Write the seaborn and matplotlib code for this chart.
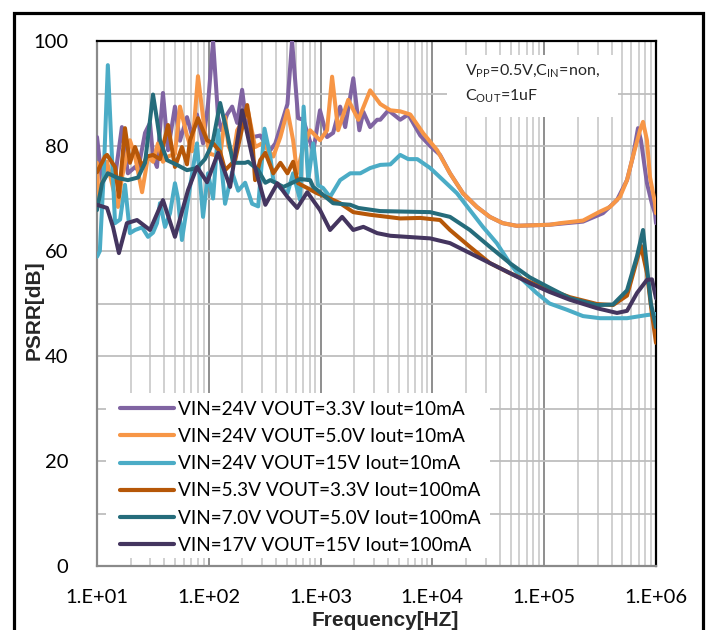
import numpy as np
import pandas as pd
import matplotlib
matplotlib.use("Agg")
import matplotlib.pyplot as plt
from matplotlib.patches import Rectangle
from matplotlib.ticker import FixedLocator, NullFormatter, LogLocator
import seaborn as sns

# ---------------- data ----------------
series_names = [
    "VIN=24V VOUT=3.3V Iout=10mA",
    "VIN=24V VOUT=5.0V Iout=10mA",
    "VIN=24V VOUT=15V Iout=10mA",
    "VIN=5.3V VOUT=3.3V Iout=100mA",
    "VIN=7.0V VOUT=5.0V Iout=100mA",
    "VIN=17V VOUT=15V Iout=100mA",
]
series_colors = ["#8064A2", "#F79646", "#4BACC6", "#B65708", "#256C7B", "#44355F"]

f_purple = [10, 10.6, 11.1, 12.5, 14.5, 16.7, 18.9, 21.9, 23.3, 26.9, 29.8, 31.7, 34.4, 38.9,
            43.2, 49.8, 55.2, 63.8, 70.8, 78.4, 88.8, 98.4, 109.2, 121.1, 130, 145.7, 161.7,
            179.4, 198.6, 220.4, 248.9, 288.4, 320.5, 355, 393.7, 465.3, 505.4, 555.8, 629.5,
            700, 774.7, 858.6, 987.7, 1142, 1294, 1495, 1659, 1961, 2221, 2413, 2774, 3206,
            3417, 4041, 5152, 6083, 7793, 9562, 11710, 14370, 18760, 24970, 32630, 42620,
            56720, 111700, 222400, 335600, 447700, 550400, 622000, 690200, 734500, 830000,
            920000, 980000, 1000000]
v_purple = [81.7, 77, 73, 75, 74.1, 83.6, 74.8, 76, 75.4, 82.5, 84.4, 78, 76, 90.1,
            79.2, 87.5, 81, 85.5, 82, 86, 80.5, 88, 100, 85.5, 83, 86, 87.5,
            84.4, 90.7, 83, 81.7, 82, 80.5, 79.2, 80.5, 85.5, 88, 100, 85.3,
            85, 82, 78.9, 86.8, 81.7, 82.5, 87.5, 83.6, 92.9, 83, 86.5, 83.6, 85,
            85, 86.8, 85, 86, 82, 80, 78.3, 74.8, 71, 68.4, 66.5, 65.3,
            64.8, 65, 65.6, 67.2, 69.7, 73.5, 78, 83.4, 81, 72.9,
            69, 67.2, 65.3]

f_orange = [10, 10.2, 10.6, 11.1, 12.3, 13.9, 15.4, 16.7, 19.7, 21.9, 25.3, 28.6, 31.7, 35.1,
            38.9, 43.2, 49.8, 55.2, 63.8, 70.8, 80.0, 92.4, 102.6, 126.3, 139.8, 150, 165,
            179.4, 225, 259.5, 300, 377.6, 436.8, 505.4, 567.6, 617.3, 698.6, 806, 987.7,
            1142, 1267, 1435, 1767, 2176, 2774, 3417, 4209, 5152, 6345, 8290, 11030, 14370,
            18760, 24970, 32630, 42620, 56720, 111700, 138400, 222400, 315000, 388000,
            476000, 550400, 622000, 719600, 765500, 830000, 883000, 980000, 1000000]
v_orange = [76.8, 72, 70, 73, 77, 72, 68.4, 74, 81.1, 78, 71.2, 78, 77, 80.5,
            77, 78, 78.5, 87.5, 82, 79, 93.3, 82.5, 78.5, 78, 85.5, 80, 78,
            83, 86.5, 79.8, 80.5, 78, 81.7, 86.8, 81.1, 74.8, 79.8, 83, 81.1,
            83, 93.2, 83, 88.8, 85, 90.6, 88, 86.8, 86.6, 86, 82.4, 79.2, 74.8,
            71, 68.4, 66.5, 65.3, 64.8, 65, 65.3, 65.8, 67.5, 68.4,
            70.3, 73.5, 78, 83, 84.6, 81.1, 74.1, 69.1, 67.2]

f_lblue = [10, 10.6, 11.5, 12.5, 13.6, 14.5, 16.1, 17.8, 19.7, 21.9, 25.3, 28.6, 31.7, 34.4,
           36.6, 40.6, 45, 49.8, 53, 57.5, 67.9, 78.4, 88.8, 98.4, 109.2, 121.1, 139.8,
           161.7, 183.2, 211.4, 243.9, 276.6, 315, 355, 377.6, 436.8, 505.4, 567.6, 656,
           705, 774.7, 858.6, 948.8, 1051, 1215, 1495, 1842, 2266, 2774, 3417, 4209, 5152,
           6083, 7328, 9562, 12460, 16580, 21640, 28280, 37650, 49170, 64200, 85440,
           111700, 160000, 222400, 315500, 550400, 830000, 1000000]
v_lblue = [58.9, 60, 75, 95.4, 78, 65.3, 66, 72.6, 63.4, 64, 64.5, 62.7, 63.5, 65.3,
           69.1, 64.6, 67.2, 72.9, 70, 62.1, 72.2, 80.5, 66.5, 74.8, 70, 83, 69,
           75, 71.5, 73, 69, 68.5, 83.3, 78, 73.5, 72, 71, 74.8, 69.7,
           87.5, 73.5, 80.5, 72.5, 72, 70.3, 73.5, 74.8, 74.8, 75.8, 76.4, 76.5, 78.3,
           77.5, 77.5, 75.8, 73.5, 71, 67.8, 64.6, 61.5, 57.7, 54.5, 52,
           50, 48.8, 47.6, 47.2, 47.2, 47.8, 48]

f_dorange = [10, 11.8, 12.3, 14.5, 15.7, 17.8, 19.7, 21.9, 25.3, 28.0, 31.7, 36.6, 43.2,
             49.8, 57.5, 63.8, 67.9, 80.0, 96.4, 109.2, 126.3, 139.8, 172.1, 220.4, 243.9,
             259.5, 288.4, 320.5, 377.6, 436.8, 505.4, 567.6, 629.5, 759.6, 930, 1215,
             1495, 1961, 2774, 3960, 5152, 7793, 11710, 14370, 21640, 32630, 49170, 74060,
             111700, 170200, 296500, 412400, 550400, 676000, 734500, 830000, 920000, 1000000]
v_dorange = [75, 78, 78.3, 76, 70.3, 83.4, 76.8, 79.8, 76, 78, 78.3, 77.5, 84,
             76, 79.8, 76.5, 81.1, 85.3, 81.1, 80.5, 78.9, 75.4, 77.3, 87.8, 81.7,
             73.5, 77.3, 78.7, 74.8, 76.8, 74.8, 77, 72.9, 72, 71, 70,
             69.1, 67.4, 66.9, 66.5, 66.2, 66.3, 65.9, 64, 60.8, 57.7, 55.8, 54.1,
             52.6, 51.2, 49.9, 49.7, 51.5, 58.3, 61, 55.8, 48, 42.5]

f_teal = [10, 11.1, 12.5, 15.4, 18.9, 23.3, 26.9, 28.6, 31.7, 34.4, 36.6, 42.3, 51.9, 63.8,
          78.4, 92.4, 102.6, 109.2, 126.3, 145.7, 165, 211.4, 225, 276.6, 320.5, 355, 465.3,
          656, 806, 858.6, 987.7, 1294, 1842, 2176, 3417, 9562, 14370, 21640, 32630, 49170,
          74060, 111700, 170200, 296500, 412400, 550400, 676000, 765500, 830000, 900000,
          1000000]
v_teal = [67.8, 72.9, 74.8, 73.9, 73.5, 74, 76.8, 81.7, 89.8, 85, 81.1, 77.3, 76.4, 75.4,
          75.8, 77.5, 79.5, 81.1, 88.2, 82.5, 76.8, 76.8, 77, 75.4, 73, 73.5, 72.2,
          73.7, 73.5, 72.2, 71.2, 69.1, 68.8, 68.2, 67.6, 67.4, 66.5, 64, 60.8, 57.7,
          55, 53, 51, 49.7, 49.8, 52.5, 59, 64, 57, 50,
          45.5]

f_dpurple = [10, 12.3, 13.9, 15.7, 18.5, 22.8, 29.8, 38.9, 49.8, 65.2, 78.4, 96.4, 121.1,
             155.1, 198.6, 248.9, 320.5, 410.5, 505.4, 617.3, 759.6, 987.7, 1215, 1558,
             1961, 2413, 3206, 4209, 9562, 14370, 21640, 32630, 49170, 74060, 111700,
             170200, 296500, 447700, 550400, 676000, 830000, 920000, 1000000]
v_dpurple = [68.8, 68.2, 64.6, 59.6, 65.3, 65.9, 64, 69.7, 62.7, 71.6, 76, 73.1, 78.7,
             72.2, 86.8, 77.3, 68.8, 72.9, 70.3, 68.2, 71.2, 67.8, 64, 66.5,
             64, 64.6, 63.4, 62.9, 62.4, 61.5, 59.6, 57.7, 55.8, 53.9, 52.2,
             50.7, 49.1, 48.2, 48.6, 52, 54.5, 54.6, 51]

x_tick_values = [1e1, 1e2, 1e3, 1e4, 1e5, 1e6]
x_tick_labels = ["1.E+01", "1.E+02", "1.E+03", "1.E+04", "1.E+05", "1.E+06"]
y_tick_values = [0, 20, 40, 60, 80, 100]
y_tick_labels = ["0", "20", "40", "60", "80", "100"]

freqs = [f_purple, f_orange, f_lblue, f_dorange, f_teal, f_dpurple]
vals = [v_purple, v_orange, v_lblue, v_dorange, v_teal, v_dpurple]
frames = []
for name, f, v in zip(series_names, freqs, vals):
    frames.append(pd.DataFrame({"freq": f, "psrr": v, "series": name}))
df = pd.concat(frames, ignore_index=True)

# ---------------- figure ----------------
sns.set_theme(style="white")
plt.rcParams["font.family"] = ["Lato", "DejaVu Sans"]
plt.rcParams["mathtext.fontset"] = "custom"
plt.rcParams["mathtext.rm"] = "Lato"

fig = plt.figure(figsize=(7.13, 6.3), dpi=100)
ax = fig.add_axes([97 / 713, 64 / 630, 559 / 713, 525 / 630])

sns.lineplot(data=df, x="freq", y="psrr", hue="series", hue_order=series_names,
             palette=series_colors, estimator=None, sort=True, linewidth=2.9,
             ax=ax, zorder=3)
for ln in ax.get_lines():
    ln.set_solid_joinstyle("round")
    ln.set_solid_capstyle("round")

ax.set_xscale("log")
ax.set_xlim(10, 1e6)
ax.set_ylim(0, 100)

ax.xaxis.set_major_locator(FixedLocator(x_tick_values))
ax.set_xticklabels(x_tick_labels)
ax.xaxis.set_minor_locator(LogLocator(base=10, subs=np.arange(2, 10)))
ax.xaxis.set_minor_formatter(NullFormatter())
ax.yaxis.set_major_locator(FixedLocator(y_tick_values))
ax.set_yticklabels(y_tick_labels)
ax.yaxis.set_minor_locator(FixedLocator([10, 30, 50, 70, 90]))

ax.set_axisbelow(True)
ax.grid(which="major", axis="x", color="#8E8E8E", linewidth=1.4)
ax.grid(which="minor", axis="x", color="#C4C4C4", linewidth=1.1)
ax.grid(which="both", axis="y", color="#BEBEBE", linewidth=1.3)

ax.tick_params(axis="both", which="both", length=0)
ax.tick_params(axis="y", which="major", pad=20.5, labelsize=14.5, labelcolor="black")
ax.tick_params(axis="x", which="major", pad=16.5, labelsize=14.5, labelcolor="black")

for s in ["left", "bottom"]:
    ax.spines[s].set_color("#8A8A8A")
    ax.spines[s].set_linewidth(1.6)
for s in ["top", "right"]:
    ax.spines[s].set_color("black")
    ax.spines[s].set_linewidth(1.6)

ax.set_xlabel("")
ax.set_ylabel("")

# legend box (white) and legend
ax.add_patch(Rectangle((0.016, 0.015), 0.687, 0.315, transform=ax.transAxes,
                       facecolor="white", edgecolor="none", zorder=1.5))
handles, labels = ax.get_legend_handles_labels()
for h in handles:
    h.set_linewidth(3)
leg = ax.legend(handles, labels, loc="upper left", bbox_to_anchor=(0.041, 0.315),
                frameon=False, fontsize=13.7, handlelength=2.85, handletextpad=0.2,
                labelspacing=0.54, borderpad=0, borderaxespad=0)
for t in leg.get_texts():
    t.set_color("black")

# annotation box
ax.add_patch(Rectangle((0.626, 0.855), 0.306, 0.118, transform=ax.transAxes,
                       facecolor="white", edgecolor="none", zorder=1.5))
ax.text(0.658, 0.942, r"V$_{\mathregular{PP}}$=0.5V,C$_{\mathregular{IN}}$=non,",
        transform=ax.transAxes, fontsize=11.5, va="center", ha="left", zorder=4)
ax.text(0.658, 0.895, r"C$_{\mathregular{OUT}}$=1uF",
        transform=ax.transAxes, fontsize=11.5, va="center", ha="left", zorder=4)

# axis titles
fig.text(34 / 713, (630 - 310) / 630, "PSRR[dB]", rotation=90, ha="center", va="center",
         fontsize=15, fontweight="bold", family=["Liberation Sans", "DejaVu Sans"])
fig.text(385 / 713, (630 - 611) / 630, "Frequency[HZ]", ha="center", va="top",
         fontsize=15, fontweight="bold", family=["Liberation Sans", "DejaVu Sans"])

# outer border
fig.patches.append(Rectangle((13.5 / 713, -0.05), (703.3 - 13.5) / 713, 0.05 + (630 - 12.5) / 630,
                             transform=fig.transFigure, facecolor="none",
                             edgecolor="black", linewidth=2.3))

fig.savefig("out.png", dpi=100)
